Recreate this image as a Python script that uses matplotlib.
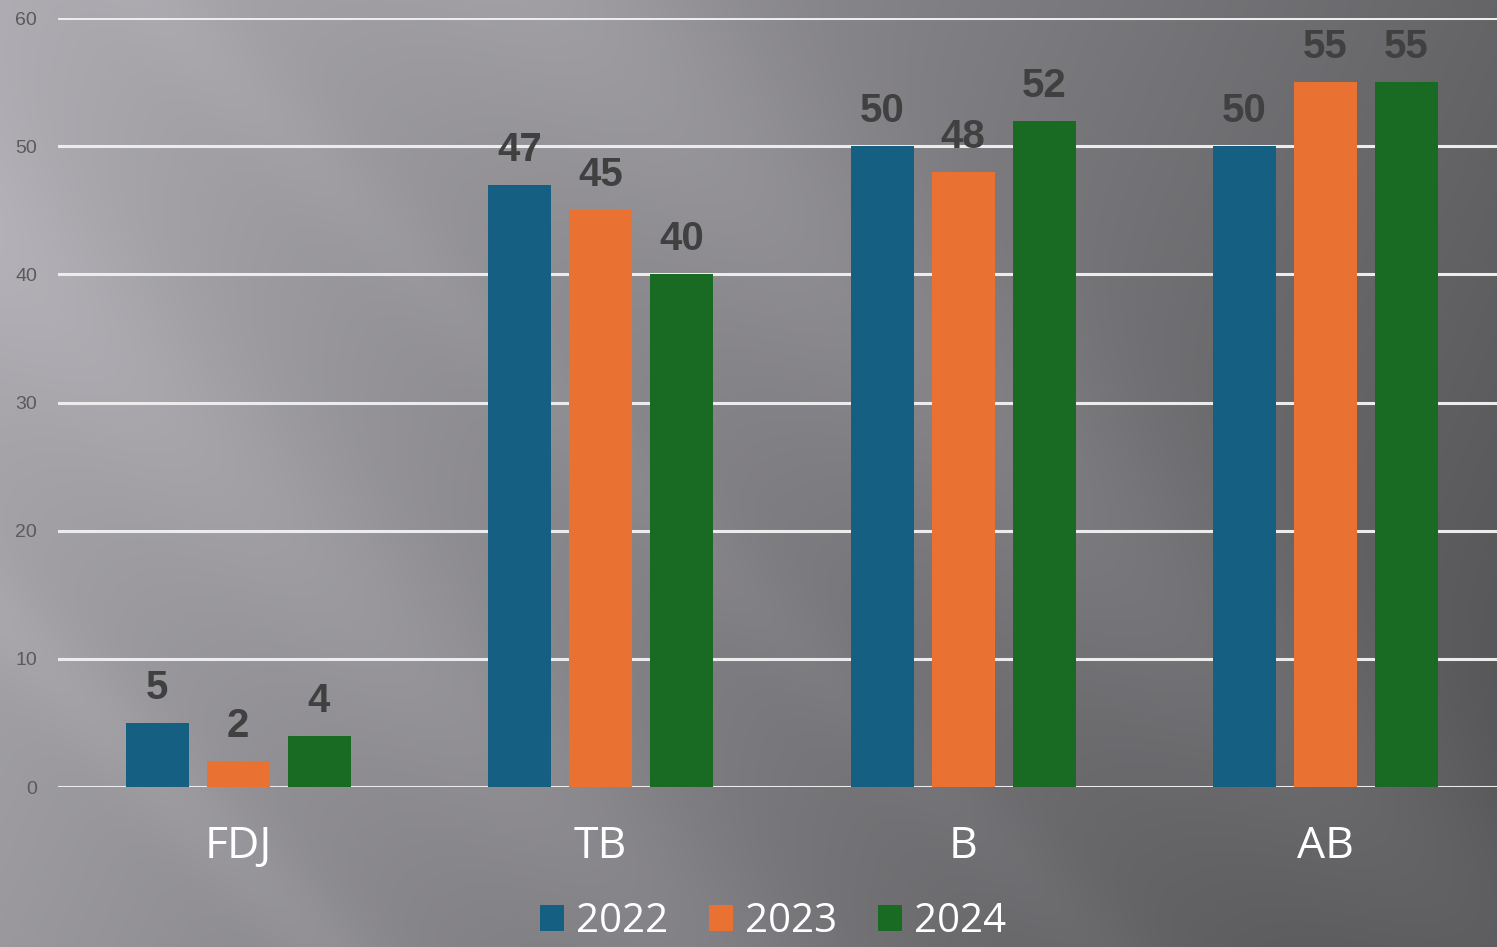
import numpy as np
import matplotlib
matplotlib.use("Agg")
import matplotlib.pyplot as plt
from matplotlib.patches import Patch

categories = ["FDJ", "TB", "B", "AB"]
years = ["2022", "2023", "2024"]
values_2022 = [5, 47, 50, 50]
values_2023 = [2, 45, 48, 55]
values_2024 = [4, 40, 52, 55]
colors = ["#156082", "#E97132", "#196B24"]

W, H = 1497, 947
fig = plt.figure(figsize=(W / 100, H / 100), dpi=100)

# background gradient with diagonal streaks
bg = fig.add_axes([0, 0, 1, 1], zorder=-10)
yy, xx = np.mgrid[0:H:2, 0:W:2]
d = xx - yy
val = 0.69 - 0.29 * (xx / W) - 0.08 * (yy / H)
val += 0.05 * np.exp(-((d - 560) / 170.0) ** 2)
val += 0.04 * np.exp(-((d + 250) / 130.0) ** 2)
val += 0.03 * np.exp(-((d + 620) / 60.0) ** 2)
val += 0.02 * np.exp(-((d - 150) / 60.0) ** 2)
rgb = np.stack([val * 0.99, val * 0.98, val * 1.01], axis=-1).clip(0, 1)
bg.imshow(rgb, extent=[0, 1, 0, 1], aspect="auto", origin="upper", interpolation="bilinear")
bg.axis("off")

left = 58 / W
bottom = (H - 787) / H
top = (H - 18) / H
ax = fig.add_axes([left, bottom, 1 - left, top - bottom])
ax.patch.set_alpha(0)

pitch = 81 / 362.5
width = 63 / 362.5
x = np.arange(len(categories))
series = [values_2022, values_2023, values_2024]
for i, (vals, c) in enumerate(zip(series, colors)):
    pos = x + (i - 1) * pitch
    bars = ax.bar(pos, vals, width=width, color=c, zorder=3, label=years[i])
    for b, v in zip(bars, vals):
        ax.annotate(str(v), (b.get_x() + b.get_width() / 2, v), xytext=(0, 11.5),
                    textcoords="offset points", ha="center", va="bottom",
                    fontsize=29, fontweight="bold", color="#404040",
                    family="Liberation Sans")

ax.set_xlim(-0.4966, 3.473)
ax.set_ylim(0, 60)
ax.set_yticks(range(0, 61, 10))
ax.yaxis.grid(True, color="#ececec", linewidth=2.2, zorder=1)
ax.set_axisbelow(True)
for s in ax.spines.values():
    s.set_visible(False)
ax.tick_params(axis="y", length=0, pad=15, labelsize=14, labelcolor="#5a5a5a")
for t in ax.get_yticklabels():
    t.set_family("Liberation Sans")
ax.set_xticks(x)
ax.set_xticklabels(categories, fontsize=32, color="white", family="Open Sans")
ax.tick_params(axis="x", length=0, pad=27)

handles = [Patch(facecolor=c, edgecolor="none") for c in colors]
fig.legend(handles, years, loc="center", bbox_to_anchor=(773 / W, (H - 922) / H),
           ncol=3, frameon=False, prop={"family": "Open Sans", "size": 29},
           labelcolor="white", handlelength=0.6, handleheight=0.6,
           handletextpad=0.3, columnspacing=1.0, borderpad=0.1)

fig.savefig("out.png", dpi=100)
